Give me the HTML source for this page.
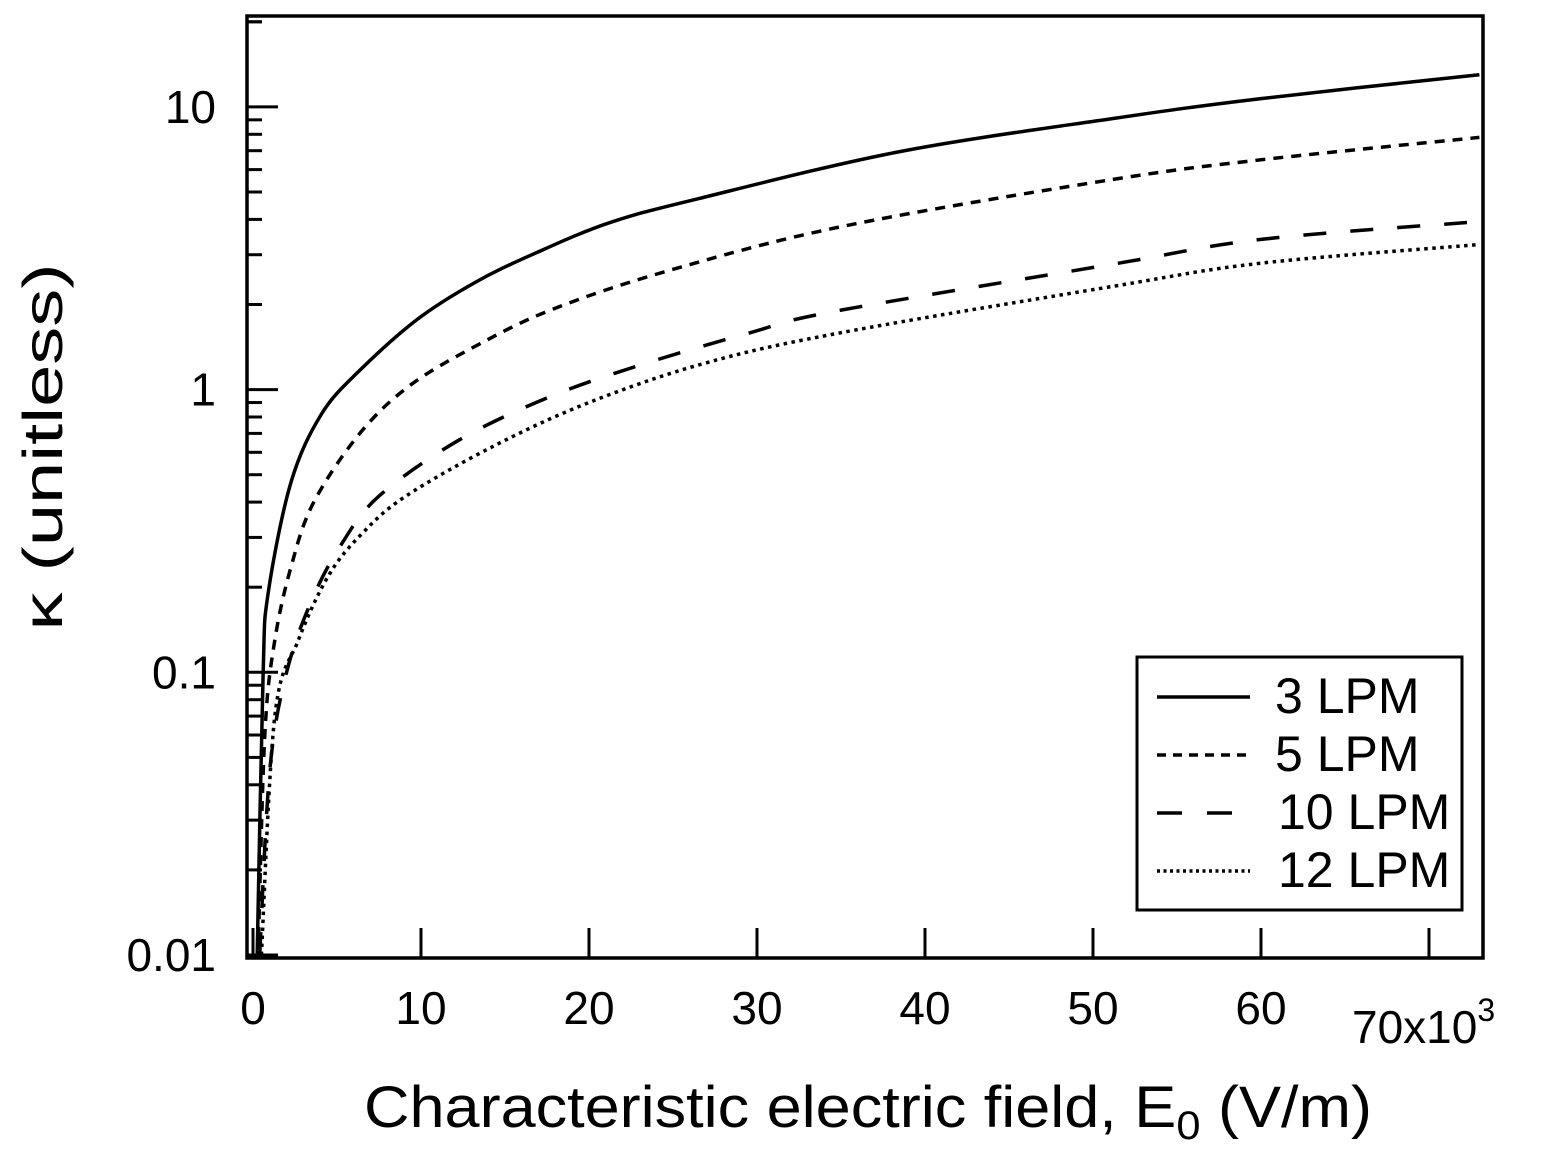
<!DOCTYPE html>
<html><head><meta charset="utf-8"><style>
body{margin:0;background:#fff;}
svg{display:block;font-family:"Liberation Sans",Arial,sans-serif;}
</style></head><body>
<svg id="chart" width="1542" height="1162" viewBox="0 0 1542 1162" xmlns="http://www.w3.org/2000/svg">
<g id="axes"></g>
<g id="series"></g>
<rect x="247" y="16" width="1236" height="942" fill="none" stroke="#000" stroke-width="3.5"/>
<text transform="translate(62,447) rotate(-90)" text-anchor="middle" font-size="56" textLength="367" lengthAdjust="spacingAndGlyphs">κ (unitless)</text>
<text x="364" y="1127" font-size="58" textLength="1008" lengthAdjust="spacingAndGlyphs">Characteristic electric field, E<tspan font-size="40" dy="12">0</tspan><tspan dy="-12"> (V/m)</tspan></text>
<text x="1352" y="1043" font-size="46">70x10<tspan font-size="32" dy="-22">3</tspan></text>
<g>
<rect x="1137" y="657" width="325" height="253" fill="#fff" stroke="#000" stroke-width="3"/>
<g id="legend-entries"></g>
</g>
</svg>
<script>
const xTicks=[0,10,20,30,40,50,60,70];
const xTickLabels=["0","10","20","30","40","50","60",""];
const yTickLabels=["0.01","0.1","1","10"];
const yTickValues=[0.01,0.1,1,10];
const seriesNames=["3 LPM","5 LPM","10 LPM","12 LPM"];
const x3=[0.25,0.6,0.9,2.26,4.08,6.36,9.77,13.2,16.6,21.2,26.6,38.5,51.2,60,73];
const k3=[0.01,0.098,0.19,0.47,0.82,1.17,1.77,2.39,3.0,3.89,4.75,6.95,9.1,10.7,13];
const x5=[0.3,0.7,1.3,2.3,3.62,6.36,9.3,13.2,17.8,24.6,35.2,51.2,60,73];
const k5=[0.01,0.06,0.13,0.24,0.4,0.7,1.03,1.42,1.92,2.62,3.79,5.54,6.5,7.8];
const x10=[0.4,1.0,2.0,3.5,5.2,7.5,12.3,17.8,23.4,29.6,34.6,51.2,60,73];
const k10=[0.01,0.045,0.1,0.18,0.28,0.42,0.665,0.95,1.24,1.59,1.89,2.78,3.4,3.93];
const x12=[0.5,1.3,2.7,4.5,6.5,9.1,14.3,20,26.9,35,51.2,60,73];
const k12=[0.01,0.07,0.13,0.22,0.31,0.42,0.63,0.9,1.24,1.59,2.32,2.8,3.26];
const allX=[x3,x5,x10,x12];
const allK=[k3,k5,k10,k12];
const dashes=["none","10 8","23 24","3.5 4.5"];
const legendDashes=["none","9 7","25 25","3 3.5"];
const NS="http://www.w3.org/2000/svg";
const X=v=>253+v*16.8;
const Y=v=>955-(Math.log10(v)+2)*282.7;
function mk(tag,attrs,parent){const e=document.createElementNS(NS,tag);for(const k in attrs)e.setAttribute(k,attrs[k]);parent.appendChild(e);return e;}
function smooth(pts){let d='M'+pts[0][0].toFixed(1)+','+pts[0][1].toFixed(1);
 for(let i=0;i<pts.length-1;i++){const p0=pts[Math.max(0,i-1)],p1=pts[i],p2=pts[i+1],p3=pts[Math.min(pts.length-1,i+2)];
  const c1=[p1[0]+(p2[0]-p0[0])/6,p1[1]+(p2[1]-p0[1])/6],c2=[p2[0]-(p3[0]-p1[0])/6,p2[1]-(p3[1]-p1[1])/6];
  d+='C'+c1.map(v=>v.toFixed(1)).join(',')+' '+c2.map(v=>v.toFixed(1)).join(',')+' '+p2[0].toFixed(1)+','+p2[1].toFixed(1);}
 return d;}
const axes=document.getElementById('axes');
xTicks.forEach((t,i)=>{
 const l=mk('line',{x1:X(t),x2:X(t),y1:958,y2:928,stroke:'#000','stroke-width':3},axes);
 
 
 const tx=mk('text',{x:X(t),y:1024,'text-anchor':'middle','font-size':46},axes);tx.textContent=xTickLabels[i];
 
 
});
yTickValues.forEach((v,i)=>{
 const l=mk('line',{x1:247,x2:278,y1:Y(v),y2:Y(v),stroke:'#000','stroke-width':3},axes);
 
 
 const tx=mk('text',{x:216,y:Y(v)+16,'text-anchor':'end','font-size':46},axes);tx.textContent=yTickLabels[i];
 
 
 for(let m=2;m<=9;m++){const mv=v*m;if(Y(mv)<16)break;
  const ml=mk('line',{x1:247,x2:262,y1:Y(mv),y2:Y(mv),stroke:'#000','stroke-width':3},axes);
  
  }
});
const ml=mk('line',{x1:247,x2:262,y1:Y(20),y2:Y(20),stroke:'#000','stroke-width':3},axes);


const sg=document.getElementById('series');
allK.forEach((s,i)=>{
 const pts=s.map((v,j)=>[X(allX[i][j]),Y(v)]);
 const p=mk('path',{d:smooth(pts),fill:'none',stroke:'#000','stroke-width':3.5,'stroke-dasharray':dashes[i],'stroke-linejoin':'round'},sg);
 
 
});
const lg=document.getElementById('legend-entries');
seriesNames.forEach((n,i)=>{
 const y=697+i*58;
 const l=mk('line',{x1:1157,x2:1250,y1:y,y2:y,stroke:'#000','stroke-width':3.5,'stroke-dasharray':legendDashes[i]},lg);
 
 
 const t=mk('text',{x:i<2?1275:1278,y:y+16,'font-size':50},lg);t.textContent=n;
 
 
});
</script>
</body></html>
